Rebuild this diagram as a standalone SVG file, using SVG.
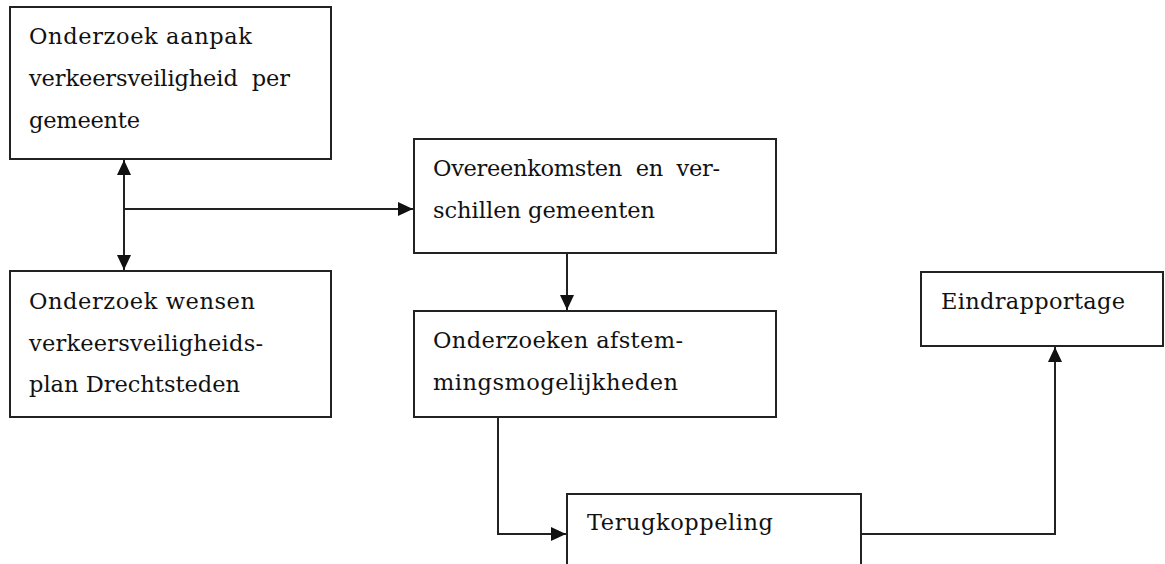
<svg xmlns="http://www.w3.org/2000/svg" width="1165" height="564" viewBox="0 0 1165 564">
<style>
  .box { fill: #ffffff; stroke: #222222; stroke-width: 2; }
  .lbl { font-family: "DejaVu Serif", "Liberation Serif", serif; font-size: 22.5px; fill: #111111; white-space: pre; }
  .con { fill: none; stroke: #222222; stroke-width: 2; }
</style>
<defs>
  <marker id="arr" markerUnits="userSpaceOnUse" markerWidth="16" markerHeight="15" refX="15" refY="7" orient="auto-start-reverse">
    <path d="M0,0 L15,7 L0,14 Z" fill="#111111"/>
  </marker>
</defs>
<rect width="1165" height="564" fill="#ffffff"/>

<g id="node-aanpak">
  <rect class="box" x="10" y="7" width="321" height="152"/>
  <text class="lbl" xml:space="preserve" x="29" y="44" textLength="223" lengthAdjust="spacing">Onderzoek aanpak</text>
  <text class="lbl" xml:space="preserve" x="29" y="86" textLength="261" lengthAdjust="spacing">verkeersveiligheid  per</text>
  <text class="lbl" xml:space="preserve" x="29" y="128" textLength="111" lengthAdjust="spacing">gemeente</text>
</g>

<g id="node-wensen">
  <rect class="box" x="10" y="271" width="321" height="146"/>
  <text class="lbl" xml:space="preserve" x="29" y="309" textLength="226" lengthAdjust="spacing">Onderzoek wensen</text>
  <text class="lbl" xml:space="preserve" x="29" y="351" textLength="234" lengthAdjust="spacing">verkeersveiligheids-</text>
  <text class="lbl" xml:space="preserve" x="29" y="392" textLength="211" lengthAdjust="spacing">plan Drechtsteden</text>
</g>

<g id="node-overeenkomsten">
  <rect class="box" x="414" y="139" width="362" height="114"/>
  <text class="lbl" xml:space="preserve" x="433" y="176" textLength="287" lengthAdjust="spacing">Overeenkomsten  en  ver-</text>
  <text class="lbl" xml:space="preserve" x="433" y="218" textLength="222" lengthAdjust="spacing">schillen gemeenten</text>
</g>

<g id="node-afstemming">
  <rect class="box" x="414" y="311" width="362" height="106"/>
  <text class="lbl" xml:space="preserve" x="433" y="348" textLength="250" lengthAdjust="spacing">Onderzoeken afstem-</text>
  <text class="lbl" xml:space="preserve" x="433" y="390" textLength="245" lengthAdjust="spacing">mingsmogelijkheden</text>
</g>

<g id="node-terugkoppeling">
  <rect class="box" x="567" y="494" width="294" height="80"/>
  <text class="lbl" xml:space="preserve" x="587" y="530" textLength="186" lengthAdjust="spacing">Terugkoppeling</text>
</g>

<g id="node-eindrapportage">
  <rect class="box" x="921" y="272" width="242" height="74"/>
  <text class="lbl" xml:space="preserve" x="941" y="309" textLength="184" lengthAdjust="spacing">Eindrapportage</text>
</g>

<g id="connectors">
  <line class="con" x1="124" y1="160" x2="124" y2="270" marker-start="url(#arr)" marker-end="url(#arr)"/>
  <line class="con" x1="124" y1="209" x2="413" y2="209" marker-end="url(#arr)"/>
  <line class="con" x1="567" y1="253" x2="567" y2="310" marker-end="url(#arr)"/>
  <path class="con" d="M498 417 V534 H566" marker-end="url(#arr)"/>
  <path class="con" d="M861 534 H1055 V347" marker-end="url(#arr)"/>
</g>
</svg>
